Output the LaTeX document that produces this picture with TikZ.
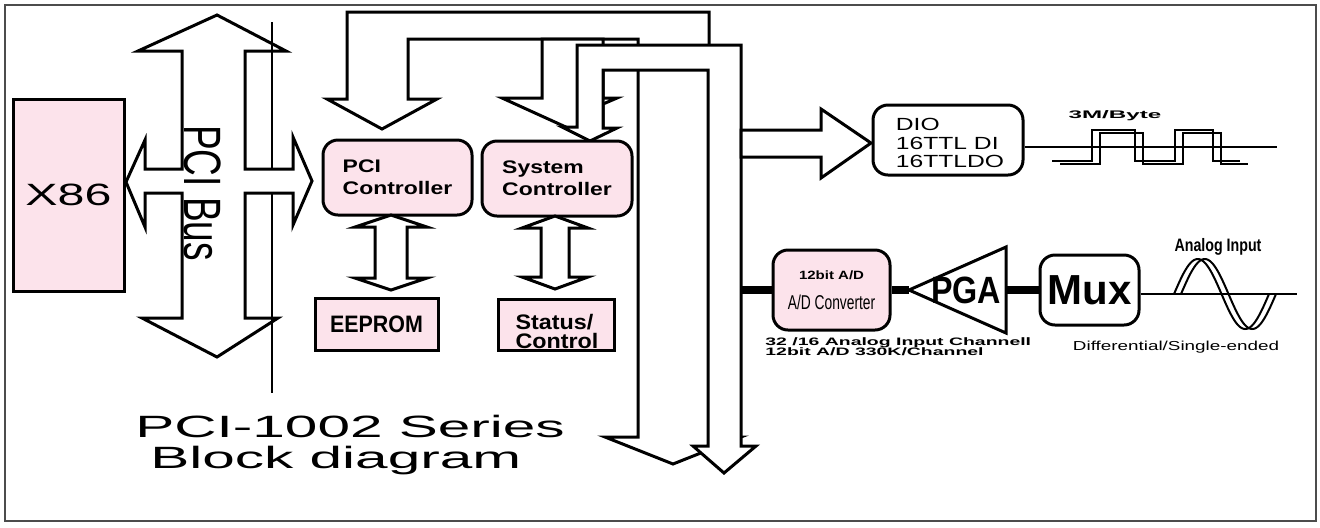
\documentclass[tikz,border=0pt]{standalone}
\usepackage{fontspec}
\setmainfont{Liberation Sans}
\usepackage{graphicx}

\definecolor{rosa}{RGB}{252,227,235}
\newcommand{\ancho}[2]{\scalebox{#1}[1]{#2}} % estirar el texto a lo ancho

\tikzset{
    linea/.style={line width=1.5pt},
    bloque/.style={linea, fill=white},
    caja/.style={draw, line width=1.5pt, fill=rosa, inner sep=0pt},
    cajared/.style={caja, rounded corners=7.5pt},
    grueso/.style={line width=4pt},
    onda/.style={line width=1pt},
}

\begin{document}
\begin{tikzpicture}[x=0.5pt, y=-0.5pt]
    \useasboundingbox (0,0) rectangle (1320,527);
    \fill[white] (0,0) rectangle (1320,527);
    % Marco exterior
    \draw[line width=1pt, black!70] (5,5) rectangle (1316,521);

    % Bus ancho: PCI Controller -> salida inferior
    \draw[bloque] (347,99) -- (347,12) -- (709,12) -- (709,437) -- (741,437) -- (673,464) -- (605,437) -- (638,437) -- (638,39) -- (408,39) -- (408,99) -- (437,99) -- (382,129) -- (327,99) -- cycle;
    % Flecha hacia el System Controller
    \draw[bloque] (542,39) -- (542,98) -- (502,98) -- (590,138) -- (603,132) -- (603,104) -- (617,98) -- (603,98) -- (603,39) -- cycle;
    % Bus doble: System Controller -> salida inferior
    \draw[bloque] (577,127) -- (577,45) -- (741,45) -- (741,446) -- (756,446) -- (724,473) -- (693,446) -- (708,446) -- (708,70) -- (603,70) -- (603,128) -- (617,128) -- (590,141) -- (562,127) -- cycle;
    % Flecha hacia DIO
    \draw[bloque] (741,130) -- (821,130) -- (821,109) -- (871,143) -- (821,178) -- (821,157) -- (741,157) -- cycle;

    % PCI Bus con sus flechas laterales
    \draw[bloque] (217,15) -- (286,51) -- (245,51) -- (245,169) -- (293,169) -- (293,137) -- (312,181) -- (293,225) -- (293,193) -- (245,193) -- (245,318) -- (278,318) -- (217,357) -- (142,318) -- (182,318) -- (182,193) -- (145,193) -- (145,227) -- (126,182) -- (145,140) -- (145,169) -- (182,169) -- (182,51) -- (138,51) -- cycle;
    \draw[line width=1.2pt] (272,22) -- (272,169);
    \draw[line width=1.2pt] (272,193) -- (272,393);
    \node (busrot) at (203,193) {\ancho{1.42}{\rotatebox{-90}{\fontsize{18.5}{20}\selectfont PCI Bus}}};

    % Procesador
    \node[caja, minimum width=55.5pt, minimum height=96pt, font=\fontsize{15.4}{18}\selectfont] (x86) at (68.5,195) {\ancho{1.57}{X86}};

    % Controladores
    \node[cajared, minimum width=74.5pt, minimum height=37.5pt, align=left, font=\fontsize{9.1}{11}\selectfont\bfseries] (pcic) at (397.5,177.5) {\ancho{1.26}{PCI}\\\ancho{1.26}{Controller}};
    \node[cajared, minimum width=75pt, minimum height=37.5pt, align=left, font=\fontsize{9.1}{11}\selectfont\bfseries] (sysc) at (557,178.5) {\ancho{1.26}{System}\\\ancho{1.26}{Controller}};

    % Flechas dobles hacia EEPROM y Status
    \foreach \cx/\s/\h/\yt/\yb in {391/16/36/215/290, 555/14/33/216/289} {
        \draw[bloque] (\cx,\yt) -- ({\cx+\h},{\yt+12}) -- ({\cx+\s},{\yt+12}) -- ({\cx+\s},{\yb-12}) -- ({\cx+\h},{\yb-12}) -- (\cx,\yb) -- ({\cx-\h},{\yb-12}) -- ({\cx-\s},{\yb-12}) -- ({\cx-\s},{\yt+12}) -- ({\cx-\h},{\yt+12}) -- cycle;
    }

    \node[caja, minimum width=61.5pt, minimum height=26pt, font=\fontsize{11.9}{14}\selectfont\bfseries] (eeprom) at (376.5,324) {\ancho{0.9}{EEPROM}};
    \node[caja, minimum width=58pt, minimum height=25.5pt] (status) at (556,324.5) {};
    \node[align=left, inner sep=0pt, font=\fontsize{10.5}{9.5}\selectfont\bfseries] (statustxt) at (557,331) {\ancho{1.11}{Status/}\\\ancho{1.11}{Control}};

    % DIO
    \node[draw, line width=1.5pt, rounded corners=7.5pt, fill=white, minimum width=75pt, minimum height=35pt] (dio) at (948,140) {};
    \node[align=left, inner sep=0pt, font=\fontsize{8.8}{9.3}\selectfont] (diotxt) at (950,143) {\ancho{1.4}{DIO}\\\ancho{1.4}{16TTL DI}\\\ancho{1.4}{16TTLDO}};
    \coordinate (ondafin) at (1277,147);
    \draw[onda] (dio.east |- ondafin) -- (ondafin);
    \foreach \dx/\dy in {0/0, 8/3} {
        \draw[onda, shift={(\dx,\dy)}] (1052,161) -- (1092,161) -- (1092,130) -- (1135,130) -- (1135,161) -- (1175,161) -- (1175,130) -- (1213,130) -- (1213,161) -- (1240,161);
    }
    \node[font=\fontsize{5.5}{6}\selectfont\bfseries] (velocidad) at (1115,116) {\ancho{2.2}{3M/Byte}};

    % Cadena analogica
    \coordinate (adin) at (741,290);
    \node[cajared, minimum width=58.5pt, minimum height=40pt, align=center] (ad) at (831.5,290) {{\fontsize{6}{7}\selectfont\bfseries\ancho{1.25}{12bit A/D}}\\[3pt]{\fontsize{10}{11}\selectfont\ancho{0.69}{A/D Converter}}};
    \coordinate (pgapunta) at (909,290);
    \draw[bloque] (pgapunta) -- (1006,247) -- (1006,333) -- cycle;
    \node[font=\fontsize{19}{20}\selectfont\bfseries] (pga) at (966,290) {\ancho{0.85}{PGA}};
    \node[draw, line width=1.5pt, rounded corners=7.5pt, fill=white, minimum width=49.5pt, minimum height=35pt, font=\fontsize{21}{22}\selectfont\bfseries] (mux) at (1089.5,290) {Mux};
    \draw[grueso] (adin) -- (ad.west);
    \draw[grueso] (ad.east) -- (pgapunta);
    \draw[grueso] (1006,290) -- (mux.west);
    \coordinate (sinfin) at (1297,294);
    \draw[onda] (mux.east |- sinfin) -- (sinfin);
    \foreach \dx in {0,7} {
        \draw[onda] plot[domain=0:360, samples=72] ({1174+\dx+\x/360*95}, {294-35*sin(\x)});
    }
    \node[font=\fontsize{9}{10}\selectfont\bfseries] (analog) at (1218,247) {\ancho{0.79}{Analog Input}};
    \node[anchor=north west, align=left, inner sep=0pt, font=\fontsize{5.4}{5.3}\selectfont\bfseries] (canales) at (765,337) {\ancho{1.8}{32 /16 Analog Input Channell}\\\ancho{1.8}{12bit A/D 330K/Channel}};
    \node[font=\fontsize{6.5}{7}\selectfont] (modo) at (1176,347) {\ancho{1.45}{Differential/Single-ended}};

    % Titulo
    \node[anchor=base west, inner sep=0pt, font=\fontsize{15.4}{18}\selectfont] (titulo) at (135,437) {\ancho{1.9}{PCI-1002 Series}};
    \node[anchor=base west, inner sep=0pt, font=\fontsize{15.4}{18}\selectfont] (subtitulo) at (150,468) {\ancho{1.9}{Block diagram}};
\end{tikzpicture}
\end{document}
